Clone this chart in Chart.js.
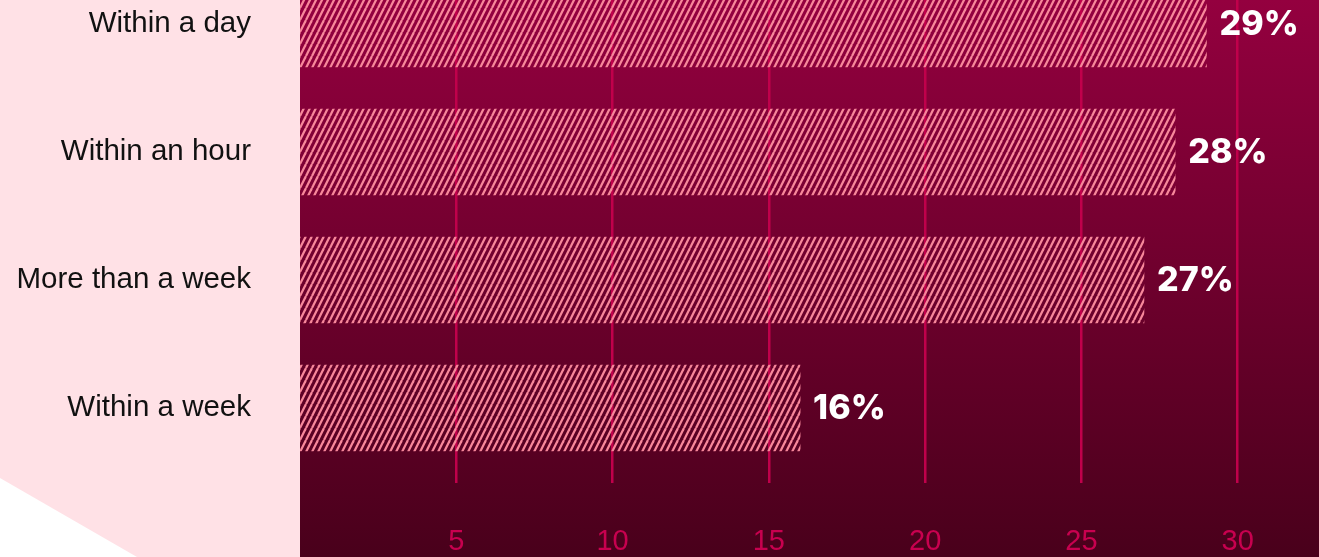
<!DOCTYPE html>
<html>
<head>
<meta charset="utf-8">
<script src="https://cdn.jsdelivr.net/npm/chart.js@4.4.1/dist/chart.umd.min.js"></script>
<style>
  html, body { margin: 0; padding: 0; background: #ffffff; overflow: hidden; }
  #wrap { position: absolute; left: 0; top: -40px; width: 1319px; height: 597px; }
  canvas { display: block; }
</style>
</head>
<body>
<div id="wrap"><canvas id="c" width="1319" height="597"></canvas></div>
<script>
const categories = ['Within a day', 'Within an hour', 'More than a week', 'Within a week'];
const values = [29, 28, 27, 16];
const xTicks = [5, 10, 15, 20, 25, 30];

function makeHatch() {
  const t = document.createElement('canvas');
  t.width = 6; t.height = 12;
  const g = t.getContext('2d');
  g.strokeStyle = '#f8889b';
  g.lineWidth = 2.2;
  for (const off of [-6, 0, 6]) {
    g.beginPath();
    g.moveTo(off, 12);
    g.lineTo(off + 6, 0);
    g.stroke();
  }
  return g.createPattern(t, 'repeat');
}

const bgPlugin = {
  id: 'bg',
  beforeDraw(chart) {
    const ctx = chart.ctx;
    const W = chart.width, H = chart.height;
    const left = chart.chartArea.left;
    ctx.save();
    ctx.fillStyle = '#ffe1e6';
    ctx.fillRect(0, 0, left, H);
    ctx.fillStyle = '#ffffff';
    ctx.beginPath();
    ctx.moveTo(0, 518);
    ctx.lineTo(137, H);
    ctx.lineTo(0, H);
    ctx.closePath();
    ctx.fill();
    const grad = ctx.createLinearGradient(0, 40, 0, H);
    grad.addColorStop(0, '#94003f');
    grad.addColorStop(1, '#49001b');
    ctx.fillStyle = grad;
    ctx.fillRect(left, 0, W - left, H);
    ctx.restore();
  }
};

const valueLabels = {
  id: 'valueLabels',
  afterDatasetsDraw(chart) {
    const ctx = chart.ctx;
    const meta = chart.getDatasetMeta(0);
    ctx.save();
    ctx.fillStyle = '#ffffff';
    ctx.font = '800 34px Inter, "Liberation Sans", sans-serif';
    ctx.textAlign = 'left';
    ctx.textBaseline = 'middle';
    meta.data.forEach((bar, i) => {
      ctx.fillText(values[i] + '%', bar.x + 13, bar.y + 1);
    });
    ctx.restore();
  }
};

const ctx = document.getElementById('c').getContext('2d');
new Chart(ctx, {
  type: 'bar',
  data: {
    labels: categories,
    datasets: [{
      data: values,
      backgroundColor: makeHatch(),
      borderWidth: 0,
      barThickness: 86
    }]
  },
  options: {
    indexAxis: 'y',
    responsive: false,
    animation: false,
    devicePixelRatio: 1,
    layout: { padding: 0 },
    plugins: { legend: { display: false }, tooltip: { enabled: false } },
    scales: {
      x: {
        min: 0,
        max: 32.6,
        afterBuildTicks(scale) { scale.ticks = xTicks.map(v => ({ value: v })); },
        afterFit(scale) { scale.height = 85; scale.paddingLeft = 0; scale.paddingRight = 0; },
        border: { display: false },
        grid: { color: '#c0004b', lineWidth: 2.5, tickLength: 11, drawTicks: true, tickColor: '#c0004b' },
        ticks: {
          padding: 42,
          color: '#c8004f',
          font: { family: '"Liberation Sans", Arial, sans-serif', size: 29 },
          maxRotation: 0
        }
      },
      y: {
        afterFit(scale) { scale.width = 300; scale.paddingTop = 0; scale.paddingBottom = 0; },
        border: { display: false },
        grid: { display: false, drawTicks: false },
        ticks: {
          padding: 49,
          color: '#111111',
          font: { family: '"Liberation Sans", Arial, sans-serif', size: 29.5 }
        }
      }
    }
  },
  plugins: [bgPlugin, valueLabels]
});
</script>
</body>
</html>
